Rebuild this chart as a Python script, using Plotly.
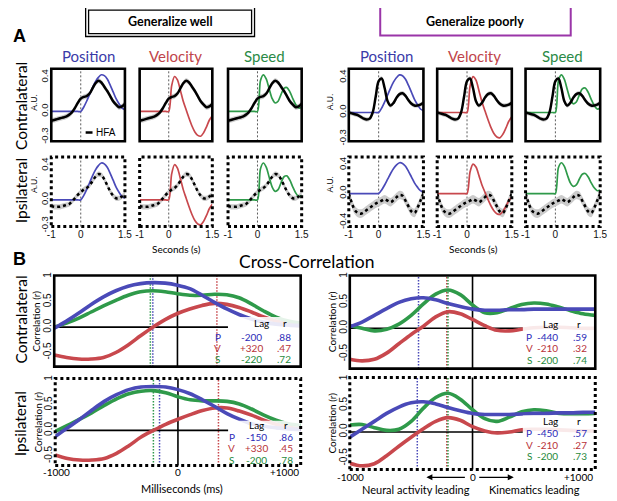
import plotly.graph_objects as go

# reference canvas size; the page puts the plot 8px in from the corner
W, H = 617, 501
PAD = 8
FW, FH = W - PAD, H - PAD

# ---------------- data: panel A (trial averages, seconds) ----------------
t_sec = [-1.0, -0.9, -0.8, -0.7, -0.6, -0.5, -0.4, -0.3, -0.2, -0.1, 0.0,
         0.1, 0.2, 0.3, 0.4, 0.5, 0.6, 0.7, 0.8, 0.9, 1.0,
         1.1, 1.2, 1.3, 1.4, 1.5]

position = [0.0, 0.0, 0.0, 0.0, 0.0, 0.0, 0.0, 0.0, 0.0, 0.0, 0.0,
            0.05, 0.12, 0.2, 0.28, 0.35, 0.4, 0.43, 0.42, 0.38, 0.31,
            0.23, 0.15, 0.09, 0.04, 0.02]
velocity = [0.0, 0.0, 0.0, 0.0, 0.0, 0.0, 0.0, 0.0, 0.0, 0.0, 0.0,
            0.3, 0.41, 0.37, 0.25, 0.12, 0.02, -0.08, -0.17, -0.24, -0.28,
            -0.29, -0.25, -0.18, -0.1, -0.05]
speed = [0.0, 0.0, 0.0, 0.0, 0.0, 0.0, 0.0, 0.0, 0.0, 0.0, 0.0,
         0.36, 0.43, 0.38, 0.26, 0.15, 0.1, 0.12, 0.2, 0.27, 0.28,
         0.23, 0.15, 0.08, 0.04, 0.05]

hfa_well_contra = [-0.11, -0.1, -0.09, -0.08, -0.07, -0.06, -0.04, -0.01, 0.04, 0.1, 0.15,
                   0.17, 0.18, 0.21, 0.27, 0.33, 0.36, 0.34, 0.29, 0.24, 0.18,
                   0.12, 0.08, 0.05, 0.06, 0.09]
hfa_well_ipsi = [-0.07, -0.08, -0.08, -0.08, -0.07, -0.06, -0.05, -0.02, 0.02, 0.06, 0.09,
                 0.12, 0.14, 0.17, 0.22, 0.27, 0.3, 0.29, 0.24, 0.17, 0.1,
                 0.05, 0.02, 0.02, 0.04, 0.06]
hfa_poor_contra = [0.0, -0.01, -0.02, -0.03, -0.05, -0.07, -0.08, -0.07, 0.0, 0.18, 0.36,
                   0.39, 0.28, 0.13, 0.08, 0.11, 0.17, 0.21, 0.22, 0.19, 0.14,
                   0.1, 0.08, 0.08, 0.09, 0.11]
hfa_poor_ipsi = [0.0, -0.13, -0.23, -0.27, -0.28, -0.26, -0.23, -0.2, -0.17, -0.14, -0.12,
                 -0.1, -0.08, -0.1, -0.12, -0.09, -0.05, -0.02, -0.03, -0.1, -0.18,
                 -0.25, -0.27, -0.2, -0.1, 0.0]
sem_well_contra = 0.03
sem_well_ipsi = 0.03
sem_poor_contra = 0.025
sem_poor_ipsi = 0.06

# ---------------- data: panel B (cross-correlation, ms) ----------------
lag_ms = [-1000, -900, -800, -700, -600, -500, -400, -300, -200, -100, 0,
          100, 200, 300, 400, 500, 600, 700, 800, 900, 1000]

cc_well_contra_p = [-0.02, 0.12, 0.28, 0.45, 0.6, 0.72, 0.81, 0.86, 0.88, 0.87, 0.83,
                    0.76, 0.63, 0.49, 0.36, 0.25, 0.16, 0.1, 0.06, 0.04, 0.03]
cc_well_contra_v = [-0.55, -0.6, -0.63, -0.63, -0.6, -0.5, -0.35, -0.17, 0.0, 0.15, 0.27,
                    0.36, 0.43, 0.47, 0.45, 0.39, 0.3, 0.2, 0.12, 0.06, 0.03]
cc_well_contra_s = [0.0, 0.08, 0.18, 0.3, 0.42, 0.53, 0.63, 0.7, 0.72, 0.7, 0.66,
                    0.63, 0.63, 0.65, 0.64, 0.58, 0.46, 0.32, 0.2, 0.12, 0.08]

cc_well_ipsi_p = [-0.12, 0.05, 0.22, 0.4, 0.57, 0.7, 0.8, 0.85, 0.86, 0.85, 0.8,
                  0.72, 0.6, 0.47, 0.33, 0.22, 0.13, 0.08, 0.05, 0.03, 0.02]
cc_well_ipsi_v = [-0.48, -0.55, -0.58, -0.58, -0.55, -0.45, -0.3, -0.13, 0.0, 0.12, 0.22,
                  0.31, 0.39, 0.44, 0.44, 0.38, 0.3, 0.2, 0.12, 0.06, 0.03]
cc_well_ipsi_s = [-0.02, 0.1, 0.22, 0.35, 0.49, 0.62, 0.72, 0.77, 0.78, 0.74, 0.66,
                  0.6, 0.58, 0.58, 0.57, 0.52, 0.42, 0.3, 0.2, 0.13, 0.1]

cc_poor_contra_p = [0.03, 0.12, 0.25, 0.38, 0.5, 0.57, 0.59, 0.55, 0.48, 0.42, 0.37,
                    0.35, 0.35, 0.36, 0.36, 0.37, 0.37, 0.37, 0.37, 0.37, 0.37]
cc_poor_contra_v = [-0.6, -0.63, -0.6, -0.48, -0.3, -0.12, 0.04, 0.22, 0.32, 0.28, 0.17,
                    0.05, -0.04, -0.05, -0.02, 0.01, 0.02, 0.02, 0.01, 0.0, 0.0]
cc_poor_contra_s = [0.05, 0.0, -0.05, -0.02, 0.08, 0.25, 0.47, 0.66, 0.74, 0.65, 0.45,
                    0.3, 0.3, 0.38, 0.46, 0.49, 0.47, 0.41, 0.34, 0.28, 0.25]

cc_poor_ipsi_p = [-0.1, 0.05, 0.2, 0.35, 0.47, 0.55, 0.57, 0.53, 0.46, 0.4, 0.35,
                  0.33, 0.33, 0.33, 0.34, 0.35, 0.35, 0.36, 0.36, 0.37, 0.37]
cc_poor_ipsi_v = [-0.59, -0.64, -0.6, -0.45, -0.27, -0.1, 0.06, 0.2, 0.27, 0.22, 0.1,
                  0.02, -0.02, 0.0, 0.04, 0.05, 0.05, 0.04, 0.03, 0.02, 0.02]
cc_poor_ipsi_s = [0.13, 0.14, 0.08, 0.03, 0.05, 0.2, 0.45, 0.65, 0.73, 0.62, 0.42,
                  0.25, 0.2, 0.28, 0.38, 0.42, 0.4, 0.35, 0.33, 0.33, 0.35]

# peak lag (ms) and r for P, V, S
peak_lag_well_contra = [-200, 320, -220]
peak_r_well_contra = [0.88, 0.47, 0.72]
peak_lag_well_ipsi = [-150, 330, -200]
peak_r_well_ipsi = [0.86, 0.45, 0.78]
peak_lag_poor_contra = [-440, -210, -200]
peak_r_poor_contra = [0.59, 0.32, 0.74]
peak_lag_poor_ipsi = [-450, -210, -200]
peak_r_poor_ipsi = [0.57, 0.27, 0.73]

kin_names = ["Position", "Velocity", "Speed"]
kin_short = ["P", "V", "S"]

# ---------------- style ----------------
LINE_C = ["#4a4ab8", "#c8484d", "#2f9a4a"]
TEXT_C = ["#3a3aa8", "#c0444a", "#2a8a46"]
TABLE_C = ["#2b2bb8", "#b83238", "#1f8a3c"]
BAND_C = "#cbcbcb"
TITLE_FONT = "Lato"
TICK_FONT = "Liberation Sans"

fig = go.Figure()
shapes = []
annos = []
n_axes = [0]


def px(x):
    return (x - PAD) / FW


def py(y):
    return 1 - (y - PAD) / FH


def new_axes(box, xr, yr, xticks=None, yticks=None, ytick_size=9.5):
    n_axes[0] += 1
    sfx = "" if n_axes[0] == 1 else str(n_axes[0])
    x0, y0, x1, y1 = box
    xa = dict(domain=[px(x0), px(x1)], range=xr, anchor="y" + sfx,
              showgrid=False, zeroline=False, showline=False, ticks="",
              showticklabels=False, fixedrange=True)
    ya = dict(domain=[py(y1), py(y0)], range=yr, anchor="x" + sfx,
              showgrid=False, zeroline=False, showline=False, ticks="",
              showticklabels=False, fixedrange=True)
    if xticks:
        xa.update(showticklabels=True, tickvals=xticks[0], ticktext=xticks[1],
                  tickfont=dict(family=TICK_FONT, size=10, color="#111"))
    if yticks:
        ya.update(showticklabels=True, tickvals=yticks[0], ticktext=yticks[1],
                  tickangle=-90,
                  tickfont=dict(family=TICK_FONT, size=ytick_size, color="#111"))
    fig.update_layout({"xaxis" + sfx: xa, "yaxis" + sfx: ya})
    return "x" + sfx, "y" + sfx


def border(xn, yn, dotted):
    shapes.append(dict(type="rect", xref=xn + " domain", yref=yn + " domain",
                       x0=0, x1=1, y0=0, y1=1, layer="above",
                       line=dict(color="black", width=3 if dotted else 2.6,
                                 dash="dot" if dotted else "solid")))


def text(x, y, s, size, color="black", family=TITLE_FONT, angle=0, xanchor="center"):
    annos.append(dict(x=px(x), y=py(y), xref="paper", yref="paper", text=s,
                      showarrow=False, textangle=angle, xanchor=xanchor,
                      yanchor="middle",
                      font=dict(family=family, size=size, color=color)))


# ---------------- panel A ----------------
kin_curves = [position, velocity, speed]
cols = {"well": [(48, 123), (138, 212), (228, 303)],
        "poor": [(351, 427), (441, 517), (531, 607)]}
rows = {"contra": (66, 140), "ipsi": (156, 227)}
hfa = {("well", "contra"): (hfa_well_contra, sem_well_contra, [-0.35, 0.5]),
       ("well", "ipsi"): (hfa_well_ipsi, sem_well_ipsi, [-0.31, 0.5]),
       ("poor", "contra"): (hfa_poor_contra, sem_poor_contra, [-0.33, 0.5]),
       ("poor", "ipsi"): (hfa_poor_ipsi, sem_poor_ipsi, [-0.46, 0.51])}

for grp in ["well", "poor"]:
    for row in ["contra", "ipsi"]:
        h, sem, yr = hfa[(grp, row)]
        upper = [v + sem for v in h]
        lower = [v - sem for v in h]
        for k in range(3):
            x0, x1 = cols[grp][k]
            y0, y1 = rows[row]
            yt = None
            if k == 0:
                low = -0.4 if (grp == "poor" and row == "ipsi") else -0.3
                yt = ([low, 0, 0.4], [f"{low:.1f}", "0.0", "0.4"])
            xt = ([-1, 0, 1.5], ["-1", "0", "1.5"]) if row == "ipsi" else None
            xn, yn = new_axes((x0, y0, x1, y1), [-1, 1.5], yr, xt, yt)
            shapes.append(dict(type="line", xref=xn, yref=yn + " domain",
                               x0=0, x1=0, y0=0, y1=1, layer="below",
                               line=dict(color="#333", width=0.8, dash="2px,2px")))
            fig.add_trace(go.Scatter(x=t_sec + t_sec[::-1], y=upper + lower[::-1],
                                     fill="toself", fillcolor=BAND_C, mode="lines",
                                     line=dict(width=0, shape="spline"),
                                     xaxis=xn, yaxis=yn, hoverinfo="skip"))
            fig.add_trace(go.Scatter(x=t_sec, y=kin_curves[k], mode="lines",
                                     line=dict(color=LINE_C[k], width=1.7, shape="spline",
                                               smoothing=0.8),
                                     xaxis=xn, yaxis=yn))
            fig.add_trace(go.Scatter(x=t_sec, y=h, mode="lines",
                                     line=dict(color="black", width=2.5, shape="spline",
                                               dash="dot" if row == "ipsi" else "solid"),
                                     xaxis=xn, yaxis=yn))
            border(xn, yn, row == "ipsi")
            if row == "contra":
                text((x0 + x1) / 2, 53, kin_names[k], 15, TEXT_C[k])
        au_y = 100 if row == "contra" else 184
        text(31 if grp == "well" else 332, au_y, "A.U.", 8.5, family=TICK_FONT, angle=-90)

# HFA mini legend
shapes.append(dict(type="line", xref="paper", yref="paper", x0=px(83), x1=px(90),
                   y0=py(131), y1=py(131), line=dict(color="black", width=2.5)))
text(92, 131, "HFA", 10, family=TICK_FONT, xanchor="left")

# header boxes
for off in [0, 3]:
    shapes.append(dict(type="rect", xref="paper", yref="paper",
                       x0=px(83 + off), x1=px(255 - off), y0=py(3 + off), y1=py(33 - off),
                       line=dict(color="black", width=1.3)))
shapes.append(dict(type="rect", xref="paper", yref="paper",
                   x0=px(383), x1=px(577), y0=py(3), y1=py(32),
                   line=dict(color="#9a35a8", width=2)))
text(169, 18, "<b>Generalize well</b>", 12.5)
text(480, 18, "<b>Generalize poorly</b>", 12.5)

text(16, 32, "<b>A</b>", 18, family="Liberation Sans")
text(16, 260, "<b>B</b>", 18, family="Liberation Sans")
text(17, 104, "Contralateral", 15.5, angle=-90)
text(17, 190, "Ipsilateral", 15.5, angle=-90)
text(176, 250, "Seconds (s)", 10)
text(478, 250, "Seconds (s)", 10)
text(308, 263, "Cross-Correlation", 17.5)

# ---------------- panel B ----------------
b_panels = [
    ((51, 277, 302, 370), [-0.78, 1.02], False,
     [cc_well_contra_p, cc_well_contra_v, cc_well_contra_s],
     peak_lag_well_contra, peak_r_well_contra, 0.2,
     dict(hx=[680, 872], hy=0.09, cx=[328, 600, 864], ry=[-0.19, -0.42, -0.63])),
    ((52, 382, 302, 471), [-0.69, 1.02], True,
     [cc_well_ipsi_p, cc_well_ipsi_v, cc_well_ipsi_s],
     peak_lag_well_ipsi, peak_r_well_ipsi, 0.19,
     dict(hx=[640, 880], hy=0.1, cx=[440, 640, 880], ry=[-0.13, -0.35, -0.58])),
    ((352, 277, 602, 372), [-0.78, 1.02], False,
     [cc_poor_contra_p, cc_poor_contra_v, cc_poor_contra_s],
     peak_lag_poor_contra, peak_r_poor_contra, 0.2,
     dict(hx=[638, 864], hy=0.09, cx=[464, 610, 878], ry=[-0.17, -0.39, -0.61])),
    ((352, 381, 602, 475), [-0.71, 1.03], True,
     [cc_poor_ipsi_p, cc_poor_ipsi_v, cc_poor_ipsi_s],
     peak_lag_poor_ipsi, peak_r_poor_ipsi, 0.31,
     dict(hx=[638, 864], hy=0.21, cx=[464, 610, 878], ry=[-0.02, -0.24, -0.46])),
]

for box, yr, dotted, curves, lags, rs, tbl_top, tp in b_panels:
    xn, yn = new_axes(box, [-1000, 1000], yr, None,
                      ([-0.5, 0, 0.5, 1], ["-0.5", "0.0", "0.5", "1"]), ytick_size=10)
    shapes.append(dict(type="line", xref=xn, yref=yn + " domain", x0=0, x1=0, y0=0, y1=1,
                       layer="below", line=dict(color="black", width=1.6)))
    shapes.append(dict(type="line", xref=xn, yref=yn, x0=-1000, x1=410, y0=0, y1=0,
                       layer="below", line=dict(color="black", width=1.6)))
    for k in range(3):
        shapes.append(dict(type="line", xref=xn, yref=yn + " domain",
                           x0=lags[k], x1=lags[k], y0=0, y1=1, layer="below",
                           line=dict(color=LINE_C[k], width=1.5, dash="1.5px,1.5px")))
    for k in [1, 2, 0]:
        fig.add_trace(go.Scatter(x=lag_ms, y=curves[k], mode="lines",
                                 line=dict(color=LINE_C[k], width=3.6, shape="spline"),
                                 xaxis=xn, yaxis=yn))
    shapes.append(dict(type="rect", xref=xn, yref=yn, x0=410, x1=1000,
                       y0=yr[0], y1=tbl_top, layer="above", opacity=0.88,
                       fillcolor="white", line=dict(width=0)))
    border(xn, yn, dotted)
    for s, hx in zip(["Lag", "r"], tp["hx"]):
        annos.append(dict(x=hx, y=tp["hy"], xref=xn, yref=yn, text=s, showarrow=False,
                          xanchor="center", yanchor="middle",
                          font=dict(family=TITLE_FONT, size=10, color="black")))
    for k in range(3):
        vals = [kin_short[k], f"{lags[k]:+d}", f"{rs[k]:.2f}".lstrip("0")]
        for s, cx in zip(vals, tp["cx"]):
            annos.append(dict(x=cx, y=tp["ry"][k], xref=xn, yref=yn, text=s,
                              showarrow=False, xanchor="center", yanchor="middle",
                              font=dict(family=TITLE_FONT, size=10, color=TABLE_C[k])))
    ycen = (box[1] + box[3]) / 2
    text(box[0] - 18, ycen, "Correlation (r)", 10, angle=-90)

text(17, 322, "Contralateral", 15.5, angle=-90)
text(17, 428, "Ipsilateral", 15.5, angle=-90)

# ms tick labels under the bottom row
for x0, x1, yb in [(52, 302, 478), (352, 602, 483)]:
    text(x0 + 1, yb, "-1000", 10)
    text((x0 + x1) / 2, yb, "0", 10)
    text(x1, yb, "+1000", 10, xanchor="right")
text(181, 494, "Milliseconds (ms)", 11)
text(419, 495, "Neural activity leading", 11)
text(540, 495, "Kinematics leading", 11)
for xh, tail in [(430, 40), (519, -36)]:
    annos.append(dict(x=px(xh), y=py(483), xref="paper", yref="paper",
                      axref="pixel", ayref="pixel", ax=tail, ay=0, text="",
                      showarrow=True, arrowhead=2, arrowsize=1, arrowwidth=1.2,
                      arrowcolor="black"))

fig.update_layout(width=FW, height=FH, autosize=False, showlegend=False,
                  margin=dict(l=0, r=0, t=0, b=0),
                  paper_bgcolor="white", plot_bgcolor="white",
                  shapes=shapes, annotations=annos)

fig.write_html("out.html")
